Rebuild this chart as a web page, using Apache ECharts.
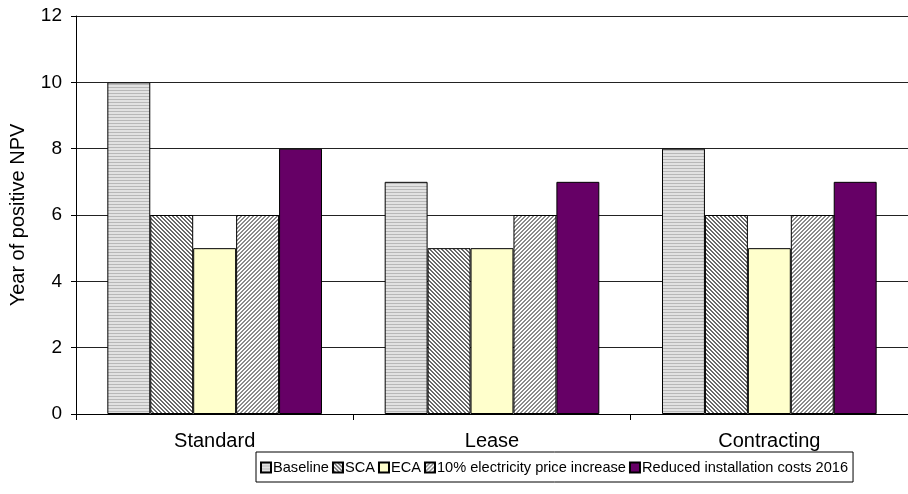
<!DOCTYPE html>
<html>
<head>
<meta charset="utf-8">
<script src="https://cdn.jsdelivr.net/npm/echarts@6/dist/echarts.min.js"></script>
<style>
  html, body { margin: 0; padding: 0; background: #fff; }
  #chart { width: 908px; height: 494px; }
</style>
</head>
<body>
<div id="chart"></div>
<script>
// Financing schemes on the x axis
const categories = ['Standard', 'Lease', 'Contracting'];
// Year in which the NPV becomes positive, per scenario
const baseline = [10, 7, 8];
const sca = [6, 5, 6];
const eca = [5, 5, 5];
const priceIncrease = [6, 6, 6];
const reducedCosts = [8, 7, 7];
const seriesNames = ['Baseline', 'SCA', 'ECA', '10% electricity price increase', 'Reduced installation costs 2016'];
const yTicks = [0, 2, 4, 6, 8, 10, 12];

// Small tiled canvases used as hatch fills
function makePattern(size, draw) {
  const c = document.createElement('canvas');
  c.width = size; c.height = size;
  const ctx = c.getContext('2d');
  draw(ctx, size);
  return { image: c, repeat: 'repeat' };
}
const horizontalStripes = makePattern(3, (ctx, s) => {
  ctx.fillStyle = '#e2e2e2'; ctx.fillRect(0, 0, s, s);
  ctx.fillStyle = '#b8b8b8'; ctx.fillRect(0, 0, s, 1);
});
function diagonal(dark, down) {
  return makePattern(4, (ctx, s) => {
    ctx.fillStyle = '#ffffff'; ctx.fillRect(0, 0, s, s);
    ctx.fillStyle = dark;
    for (let y = 0; y < s; y++) {
      for (let x = 0; x < s; x++) {
        const k = down ? ((x - y) % 4 + 4) % 4 : (x + y) % 4;
        if (k === 0 || k === 1) ctx.fillRect(x, y, 1, 1);
      }
    }
  });
}
const fills = [
  horizontalStripes,
  diagonal('#6a6a6a', true),
  '#ffffcc',
  diagonal('#8a8a8a', false),
  '#660066'
];
const values = [baseline, sca, eca, priceIncrease, reducedCosts];

const chart = echarts.init(document.getElementById('chart'), null, { renderer: 'canvas' });
const font = 'Liberation Sans, Arial, sans-serif';
chart.setOption({
  animation: false,
  textStyle: { fontFamily: font },
  grid: { left: 75, right: 0, top: 16, bottom: 80 },
  legend: {
    data: seriesNames,
    bottom: 12,
    left: 256,
    itemWidth: 10,
    itemHeight: 10,
    itemGap: 3,
    padding: [8, 5, 7, 4],
    borderColor: '#000',
    borderWidth: 1,
    borderRadius: 0,
    textStyle: { fontSize: 14.6, color: '#000', fontFamily: font, padding: [0, 0, 0, -3] },
    icon: 'rect'
  },
  xAxis: {
    type: 'category',
    data: categories,
    axisLine: { lineStyle: { color: '#000', width: 1 } },
    axisTick: { show: true, length: 6, lineStyle: { color: '#000' } },
    axisLabel: { fontSize: 20, color: '#000', margin: 17, fontFamily: font }
  },
  yAxis: {
    type: 'value',
    min: 0,
    max: 12,
    interval: 2,
    name: 'Year of positive NPV',
    nameLocation: 'middle',
    nameGap: 48,
    nameTextStyle: { fontSize: 20, color: '#000', fontFamily: font },
    axisLine: { show: true, lineStyle: { color: '#000', width: 1 } },
    axisTick: { show: true, length: 5, lineStyle: { color: '#000' } },
    axisLabel: { fontSize: 19, color: '#000', margin: 14, fontFamily: font },
    splitLine: { lineStyle: { color: '#222', width: 1 } }
  },
  series: seriesNames.map((name, i) => ({
    name: name,
    type: 'bar',
    data: values[i],
    barGap: '0%',
    barCategoryGap: '22.6%',
    itemStyle: { color: fills[i], borderColor: '#000', borderWidth: 1 }
  }))
});
</script>
</body>
</html>
